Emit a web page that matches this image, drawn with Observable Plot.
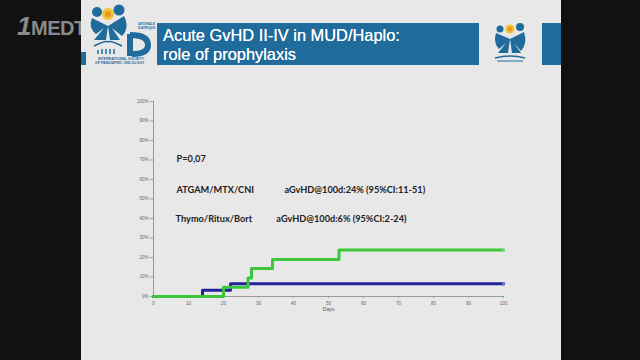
<!DOCTYPE html>
<html><head><meta charset="utf-8">
<script src="https://cdn.jsdelivr.net/npm/d3@7"></script>
<script src="https://cdn.jsdelivr.net/npm/@observablehq/plot@0.6"></script>
<style>
html,body{margin:0;padding:0;background:#111;}
#wrap{position:relative;width:640px;height:360px;overflow:hidden;background:#111;font-family:"Liberation Sans",Arial,sans-serif;}
#slide{position:absolute;left:81px;top:0;width:480px;height:360px;background:#e8e8e8;}
#bar{position:absolute;left:157px;top:23px;width:322px;height:42px;background:#1f6b9b;}
#strip{position:absolute;left:542px;top:23px;width:19px;height:42px;background:#1f6b9b;}
#sq{position:absolute;left:81px;top:52px;width:5px;height:13px;background:#1f6b9b;}
#title{position:absolute;left:163px;top:26px;color:#fff;font-size:16.4px;line-height:19px;font-family:"Liberation Sans",Arial,sans-serif;text-shadow:0 0 0.4px #fff;}
#wm{position:absolute;left:17px;top:11px;color:#8a8a8a;font-weight:bold;font-size:20px;font-family:"Liberation Sans",Arial,sans-serif;letter-spacing:-0.5px;}
#chart{position:absolute;left:0;top:0;}
.logo{position:absolute;}
</style></head>
<body><div id="wrap">
<div id="wm"><span style="font-size:26px;font-style:italic">1</span>MEDT</div>
<div id="slide"></div>
<div id="sq"></div>
<div id="bar"></div>
<div id="strip"></div>
<div id="title">Acute GvHD II-IV in MUD/Haplo:<br>role of prophylaxis</div>
<svg class="logo" style="left:84px;top:0px" width="74" height="66" viewBox="0 0 74 66">
  <circle cx="24" cy="14" r="6" fill="#f2c230"/>
  <circle cx="24" cy="14" r="3" fill="#e89a20"/>
  <circle cx="13" cy="12" r="5" fill="#1f6b9b"/>
  <circle cx="35" cy="10" r="5.5" fill="#1f6b9b"/>
  <path d="M8 18 Q4 28 12 34 L20 28 L10 40 L22 40 L24 26 Z" fill="#1f6b9b"/>
  <path d="M40 16 Q46 28 38 36 L28 28 L36 40 L26 40 L24 26 Z" fill="#1f6b9b"/>
  <path d="M10 46 Q22 40 24 42 Q26 40 38 46" stroke="#1f6b9b" stroke-width="1.5" fill="none"/>
  <path d="M14 50 L14 54 M18 49 L18 54 M22 49 L22 54 M26 49 L26 54 M30 49 L30 54" stroke="#1f6b9b" stroke-width="1.5"/>
  <path d="M46 34 L46 56 M46 35 Q64 35 64 45 Q64 54 48 54" stroke="#1f6b9b" stroke-width="6" fill="none"/>
  <text x="54" y="25" font-size="3.2" fill="#1f6b9b" font-weight="bold">IATIONALE</text>
  <text x="54" y="29" font-size="3.2" fill="#1f6b9b" font-weight="bold">DIATRIQUE</text>
  <text x="14" y="60" font-size="3.6" fill="#1f6b9b" font-weight="bold">INTERNATIONAL SOCIETY</text>
  <text x="11" y="64" font-size="3.6" fill="#1f6b9b" font-weight="bold">OF PAEDIATRIC ONCOLOGY</text>
</svg>
<svg class="logo" style="left:491px;top:23px" width="38" height="40" viewBox="0 0 38 40">
  <circle cx="19" cy="6" r="4.5" fill="#f2c230"/>
  <circle cx="19" cy="6" r="2.2" fill="#e89a20"/>
  <circle cx="9" cy="6" r="3.5" fill="#1f6b9b"/>
  <circle cx="29" cy="4" r="4" fill="#1f6b9b"/>
  <path d="M5 10 Q2 20 8 26 L15 20 L7 30 L17 30 L19 16 Z" fill="#1f6b9b"/>
  <path d="M33 9 Q37 20 30 28 L23 20 L30 30 L21 30 L19 16 Z" fill="#1f6b9b"/>
  <path d="M4 35 Q19 31 34 35" stroke="#1f6b9b" stroke-width="1.3" fill="none"/>
  <path d="M6 38 L32 38" stroke="#1f6b9b" stroke-width="1"/>
</svg>
<div id="chart"></div>
</div>
<script>
// Data
const atgamDays = [0, 20, 27, 28, 34, 53, 100];
const atgamPct  = [0, 4.8, 9.5, 14.3, 19.0, 23.8, 23.8];
const thymoDays = [0, 14, 22, 100];
const thymoPct  = [0, 3.2, 6.5, 6.5];
const xTicks = [0,10,20,30,40,50,60,70,80,90,100];
const yTicks = [0,10,20,30,40,50,60,70,80,90,100];
const annoText = ["P=0,07", "ATGAM/MTX/CNI", "aGvHD@100d:24% (95%CI:11-51)", "Thymo/Ritux/Bort", "aGvHD@100d:6% (95%CI:2-24)"];
const annoDay  = [6.6, 6.6, 37.4, 6.3, 35.1];
const annoPct  = [70.3, 54.4, 54.4, 39.5, 39.5];

const atgam = atgamDays.map((d,i)=>({day:d, pct:atgamPct[i]}));
const thymo = thymoDays.map((d,i)=>({day:d, pct:thymoPct[i]}));
const anno = annoText.map((t,i)=>({t, day:annoDay[i], pct:annoPct[i]}));
const blue = "#22229c", green = "#3cc63c";

const chart = Plot.plot({
  width: 640, height: 360,
  marginLeft: 153, marginRight: 137, marginTop: 101, marginBottom: 64,
  style: {background: "transparent", fontFamily: "Liberation Sans, Arial, sans-serif"},
  x: {domain: [0, 100], ticks: xTicks},
  y: {domain: [0, 100], ticks: yTicks},
  marks: [
    Plot.ruleX([0], {stroke: "#9a9a9a", strokeWidth: 1}),
    Plot.ruleY([0], {stroke: "#9a9a9a", strokeWidth: 1}),
    Plot.axisY({ticks: yTicks, tickSize: 3, tickPadding: 2, stroke: "#9a9a9a", fill: "#666", fontSize: 4.5, tickFormat: d => d + "%", label: null}),
    Plot.axisX({ticks: xTicks, tickSize: 2, tickPadding: 3, stroke: "#9a9a9a", fill: "#666", fontSize: 4.5, label: null}),
    Plot.text(["Days"], {x: 50, y: 0, dy: 14, fontSize: 5, fill: "#555", frameAnchor: "bottom"}),
    Plot.line(thymo, {x: "day", y: "pct", curve: "step-after", stroke: blue, strokeWidth: 3}),
    Plot.line(atgam, {x: "day", y: "pct", curve: "step-after", stroke: green, strokeWidth: 3}),
    Plot.dot([thymo[thymo.length-1]], {x: "day", y: "pct", r: 1.8, fill: "#6a6ad0"}),
    Plot.dot([atgam[atgam.length-1]], {x: "day", y: "pct", r: 1.8, fill: "#7ad87a"}),
    Plot.text(anno, {x: "day", y: "pct", text: "t", textAnchor: "start", fontSize: 9.2, fontWeight: "bold", fill: "#222", fontFamily: "Lato, sans-serif"})
  ]
});
document.getElementById("chart").appendChild(chart);
</script>
</body></html>
